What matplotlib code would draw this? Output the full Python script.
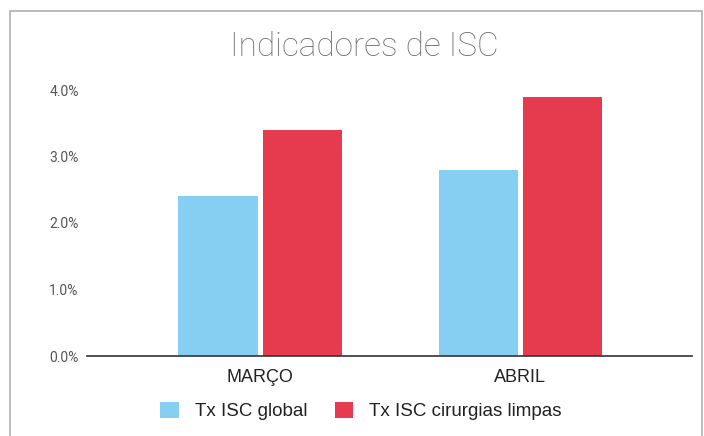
import matplotlib
matplotlib.use("Agg")
import matplotlib.pyplot as plt
from matplotlib.patches import Rectangle
import numpy as np

categories = ["MARÇO", "ABRIL"]
series_names = ["Tx ISC global", "Tx ISC cirurgias limpas"]
tx_global = [2.4, 2.8]
tx_limpas = [3.4, 3.9]
yticks = [0.0, 1.0, 2.0, 3.0, 4.0]
ytick_labels = ["0.0%", "1.0%", "2.0%", "3.0%", "4.0%"]
title = "Indicadores de ISC"

blue = "#86CFF2"
red = "#E63B4F"

plt.rcParams['font.family'] = ['Liberation Sans', 'DejaVu Sans']

fig = plt.figure(figsize=(7.04, 4.36), dpi=100)
fig.patch.set_facecolor("white")

# outer frame
frame = Rectangle((10/704, -0.05), 702/704 - 10/704, 1 - 11/436 + 0.05,
                  transform=fig.transFigure, fill=False, edgecolor="#b0b0b0",
                  linewidth=1.2)
fig.add_artist(frame)

ax = fig.add_axes([87/704, 1 - 356/436, (692 - 87)/704, 266/436])
x = np.arange(len(categories))
w = 0.304
gap = 0.019
ax.bar(x - w/2 - gap/2, tx_global, width=w, color=blue, label=series_names[0])
ax.bar(x + w/2 + gap/2, tx_limpas, width=w, color=red, label=series_names[1])

ax.set_ylim(0, 4.0)
ax.set_xlim(-0.665, 1.66)
ax.set_yticks(yticks)
ax.set_yticklabels(ytick_labels, color="#555555", fontsize=10,
                   family=['Roboto', 'DejaVu Sans'])
ax.set_xticks(x)
ax.set_xticklabels(categories, color="#222222", fontsize=13)
ax.tick_params(axis='both', length=0)
ax.tick_params(axis='y', pad=6)
ax.tick_params(axis='x', pad=9)
for s in ["top", "right", "left"]:
    ax.spines[s].set_visible(False)
ax.spines["bottom"].set_color("#333333")
ax.spines["bottom"].set_linewidth(1.2)

fig.text(364/704, 1 - 47/436, title, ha="center", va="center",
         fontsize=24, color="#6f6f6f", fontweight="light",
         family=['Roboto', 'DejaVu Sans'])

leg = fig.legend(loc="center", bbox_to_anchor=(361/704, 1 - 411/436),
                 ncol=2, frameon=False, fontsize=13.5, handlelength=1.0,
                 handleheight=1.0, handletextpad=0.85, columnspacing=1.45)
for t in leg.get_texts():
    t.set_color("#222222")

fig.savefig("out.png", dpi=100, facecolor="white")
